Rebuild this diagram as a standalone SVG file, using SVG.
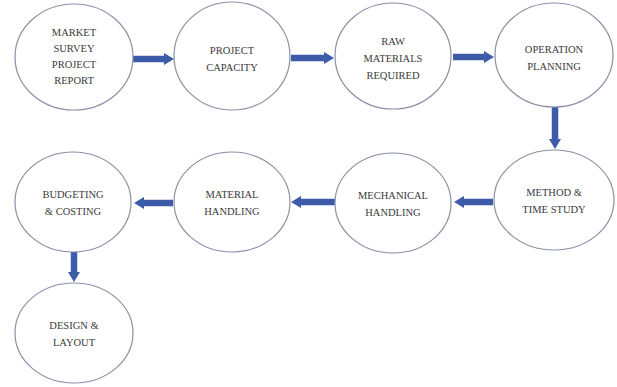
<svg xmlns="http://www.w3.org/2000/svg" width="617" height="387" viewBox="0 0 617 387">
<style>
.node ellipse{fill:#fff;stroke:#8a8fa6;stroke-width:1.2}
.node text{font-family:"Liberation Serif","DejaVu Serif","Times New Roman",serif;font-size:10.5px;fill:#3a3a3a;text-anchor:middle}
.conn path{stroke:#3d5ba8;stroke-width:6.5;fill:none}
</style>
<defs>
<marker id="ah" markerUnits="userSpaceOnUse" markerWidth="10" markerHeight="12" refX="2" refY="6" orient="auto">
<path d="M0,0 L10,6 L0,12 Z" fill="#3d5ba8"/>
</marker>
</defs>
<rect width="617" height="387" fill="#fff"/>
<g class="conn">
<path d="M133,59 H166" marker-end="url(#ah)"/>
<path d="M291,58 H326" marker-end="url(#ah)"/>
<path d="M453,57 H486" marker-end="url(#ah)"/>
<path d="M555,107 V141" marker-end="url(#ah)"/>
<path d="M493,202 H462" marker-end="url(#ah)"/>
<path d="M335,202 H299" marker-end="url(#ah)"/>
<path d="M173,203 H142" marker-end="url(#ah)"/>
<path d="M74,252 V274" marker-end="url(#ah)"/>
</g>
<g id="n1" class="node"><ellipse cx="74" cy="57" rx="59" ry="53"/>
<text x="74" y="36">MARKET</text><text x="74" y="52">SURVEY</text><text x="74" y="68">PROJECT</text><text x="74" y="84">REPORT</text></g>
<g id="n2" class="node"><ellipse cx="232" cy="56" rx="58" ry="54"/>
<text x="232" y="54">PROJECT</text><text x="232" y="71">CAPACITY</text></g>
<g id="n3" class="node"><ellipse cx="393" cy="56" rx="58" ry="53"/>
<text x="393" y="45">RAW</text><text x="393" y="62">MATERIALS</text><text x="393" y="79">REQUIRED</text></g>
<g id="n4" class="node"><ellipse cx="554" cy="55" rx="59" ry="52"/>
<text x="554" y="53">OPERATION</text><text x="554" y="70">PLANNING</text></g>
<g id="n5" class="node"><ellipse cx="554" cy="200" rx="60" ry="50"/>
<text x="554" y="196">METHOD &amp;</text><text x="554" y="213">TIME STUDY</text></g>
<g id="n6" class="node"><ellipse cx="393" cy="203" rx="58" ry="50"/>
<text x="393" y="199">MECHANICAL</text><text x="393" y="216">HANDLING</text></g>
<g id="n7" class="node"><ellipse cx="232" cy="202" rx="58" ry="50"/>
<text x="232" y="198">MATERIAL</text><text x="232" y="215">HANDLING</text></g>
<g id="n8" class="node"><ellipse cx="73" cy="202" rx="58" ry="50"/>
<text x="73" y="198">BUDGETING</text><text x="73" y="215">&amp; COSTING</text></g>
<g id="n9" class="node"><ellipse cx="74" cy="333" rx="59" ry="50"/>
<text x="74" y="329">DESIGN &amp;</text><text x="74" y="346">LAYOUT</text></g>
</svg>
